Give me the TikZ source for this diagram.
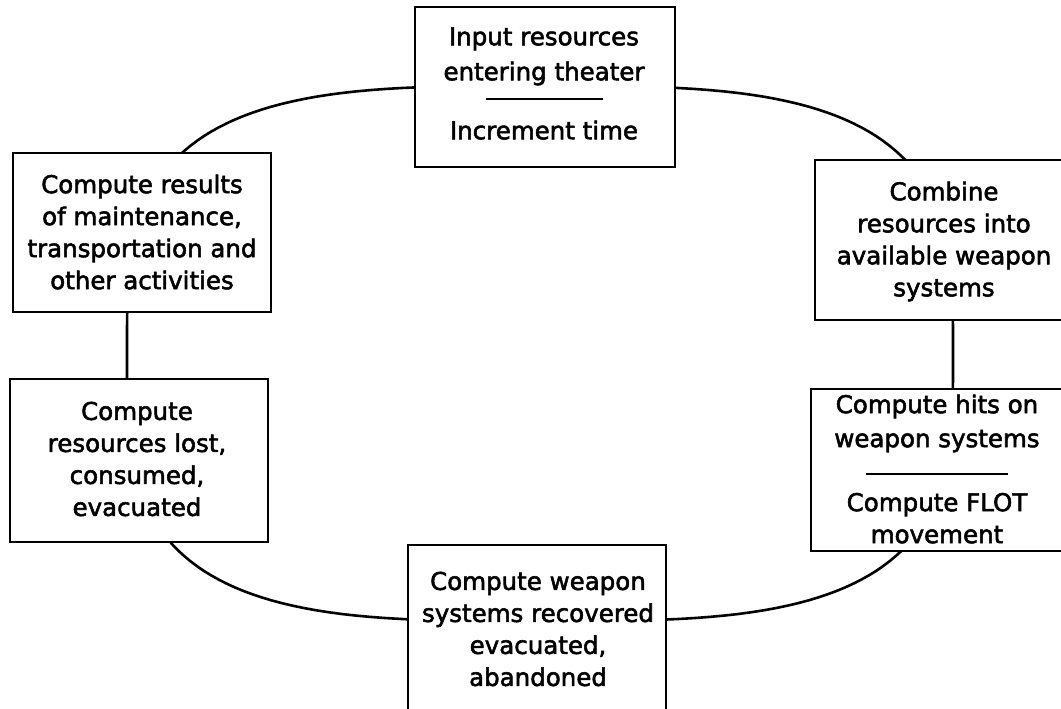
\documentclass[tikz,border=0pt]{standalone}
\usepackage{fontspec}
\setmainfont{DejaVu Sans}
\newfontfamily\boxfont[FakeBold=2.2]{DejaVu Sans}
\begin{document}
\begin{tikzpicture}[x=1pt,y=-1pt,
  box/.style={draw=black, line width=1.3pt, fill=white, rectangle, inner sep=0pt},
  txt/.style={align=center, inner sep=0pt, font=\boxfont\fontsize{24.5pt}{32pt}\selectfont},
  loopline/.style={draw=black, line width=2.6pt}]
\useasboundingbox (0,0) rectangle (1061,709);
\clip (0,0) rectangle (1061,709);
\fill[white] (0,0) rectangle (1061,709);
% closed cycle behind the boxes
\draw[loopline] plot[domain=1:361, samples=181, variable=\t]
  ({540+413*sign(cos(\t))*abs(cos(\t))^(0.597)},
   {353.5+267.5*sign(sin(\t))*abs(sin(\t))^(0.597)}) -- cycle;
% boxes
\node[box, minimum width=260pt, minimum height=160pt] (top) at (545,87) {};
\node[box, minimum width=258pt, minimum height=159pt] (tl) at (142,232.5) {};
\node[box, minimum width=258pt, minimum height=160pt] (tr) at (944,240) {};
\node[box, minimum width=258pt, minimum height=163pt] (bl) at (139,460.5) {};
\node[box, minimum width=256pt, minimum height=162pt] (br) at (939,470) {};
\node[box, minimum width=258pt, minimum height=170pt] (bot) at (537,630) {};
% texts
\node[txt] (topt) at (544,83.5) {Input resources\\[3pt]entering theater\\[-6pt]\rule[6.5pt]{117pt}{1.8pt}\\[1pt]Increment time};
\node[txt] (tlt) at (142,232) {Compute results\\of maintenance,\\transportation and\\other activities};
\node[txt] (trt) at (944,241.5) {Combine\\resources into\\available weapon\\systems};
\node[txt] (blt) at (137,459) {Compute\\resources lost,\\consumed,\\evacuated};
\node[txt] (brt) at (937,469) {Compute hits on\\[2pt]weapon systems\\[-1pt]\rule[3.5pt]{142pt}{1.8pt}\\[1pt]Compute FLOT\\movement};
\node[txt] (bott) at (538,629) {Compute weapon\\systems recovered\\evacuated,\\abandoned};
\end{tikzpicture}
\end{document}
